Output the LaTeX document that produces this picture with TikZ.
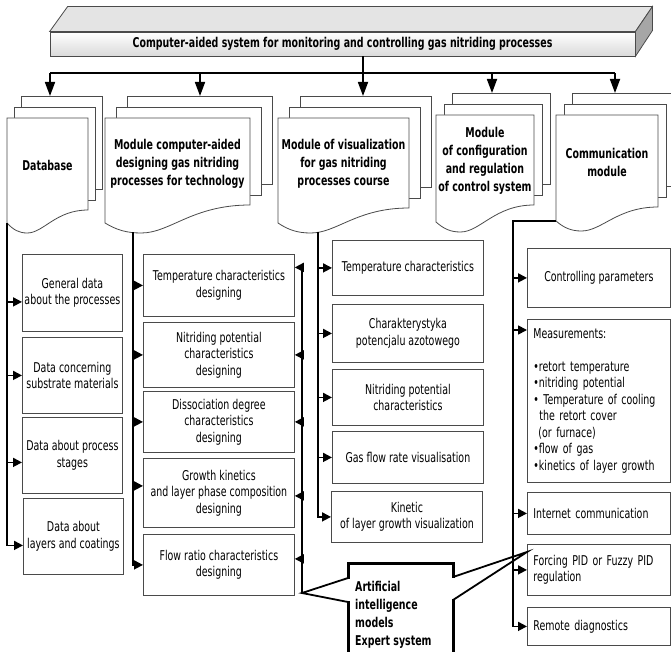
\documentclass[tikz,border=0pt]{standalone}
\usepackage{fontspec}
\setmainfont{DejaVu Sans}[FakeStretch=0.7]
\usetikzlibrary{arrows.meta, calc}
\definecolor{lidgray}{HTML}{E4E4E4}
\definecolor{sidegray}{HTML}{A6A6A6}
\definecolor{facegray}{HTML}{DADADA}
\definecolor{framegray}{HTML}{4A4A4A}

% stack of three pages, the front one with a wavy bottom
\newcommand{\pagestack}[9]{%
  \pgfmathsetmacro{\pgw}{#3-#2}
  \draw[page] ({#2+2*#7},{#4-22}) rectangle ({#3+2*#7},{#6-21});
  \draw[page] ({#2+#7},{#4-11}) rectangle ({#3+#7},{#6-10});
  \draw[page] (#2,#4) -- (#3,#4) -- (#3,#6)
    .. controls ({#2+0.6*\pgw},{#6}) and ({#2+0.45*\pgw},{#5+10}) .. ({#2+0.25*\pgw},{#5+10})
    .. controls ({#2+0.15*\pgw},{#5+10}) and ({#2+0.08*\pgw},{#5+7}) .. (#2,#5) -- cycle;
  \coordinate (#1-top) at ({#2+2*#7},{#4-22});
  \coordinate (#1-bl) at (#2,#5);
  \node[modtitle] (#1) at ({(#2+#3)/2},#9) {#8};
}

\begin{document}
\begin{tikzpicture}[x=1pt, y=-1pt,
    page/.style={draw=framegray, fill=white, line width=0.8pt},
    modtitle/.style={font=\bfseries\fontsize{13.5}{18}\selectfont, align=center, inner sep=0pt},
    sysbox/.style={draw=framegray, line width=0.8pt, top color=white, bottom color=facegray,
      minimum width=585pt, minimum height=24pt, font=\bfseries\fontsize{13.5}{16}\selectfont},
    sub/.style={draw=framegray, fill=white, line width=0.8pt, align=center, anchor=north west,
      font=\fontsize{13.5}{16.5}\selectfont, inner xsep=1pt},
    data/.style={sub, minimum width=100pt},
    design/.style={sub, minimum width=151pt},
    vis/.style={sub, minimum width=151pt},
    comm/.style={sub, minimum width=143pt},
    comml/.style={sub, align=left, text width=131pt, inner xsep=6pt},
    aitext/.style={anchor=west, align=left, inner sep=0pt, font=\bfseries\fontsize{13.5}{18}\selectfont},
    conn/.style={line width=1.7pt},
    arr/.style={conn, -{Triangle[length=9pt, width=9pt]}},
    drop/.style={conn, -{Triangle[length=14pt, width=10pt]}},
    callout/.style={line width=3pt},
    pointer/.style={line width=1.8pt},
  ]
  \useasboundingbox (0,0) rectangle (671,652);

  % main system box
  \node[sysbox] (sys) at (342.5,44) {Computer-aided system for monitoring and controlling gas nitriding processes};
  \draw[page, fill=lidgray] (sys.north west) -- ++(18,-25) -- ($(sys.north east)+(17,-25)$) -- (sys.north east) -- cycle;
  \draw[page, fill=sidegray] (sys.north east) -- ++(17,-25) -- ++(0,24) -- (sys.south east) -- cycle;

  % modules
  \pagestack{mDb}{7}{88}{118}{223}{210}{7}{Database}{165}
  \pagestack{mDes}{105}{250}{118}{223}{205}{11}{Module computer-aided\\designing gas nitriding\\processes for technology}{164}
  \pagestack{mVis}{278}{409}{118}{223}{208}{11}{Module of visualization\\for gas nitriding\\processes course}{164}
  \pagestack{mCfg}{436}{534}{115}{222}{205}{8}{Module\\of configuration\\and regulation\\of control system}{160.5}
  \pagestack{mCom}{556}{658}{115}{221}{207}{8}{Communication\\module}{162}

  % distribution from the system box
  \coordinate (hub) at (363,73);
  \foreach \m/\x in {mDb/50, mDes/200, mVis/363, mCfg/492, mCom/615}
    \coordinate (t\m) at (\x,73);
  \draw[conn] (sys.south -| hub) -- (hub);
  \draw[conn] (tmDb) -- (tmCom);
  \foreach \m in {mDb, mDes, mVis, mCfg, mCom}
    \draw[drop] (t\m) -- (t\m |- \m-top);

  % database
  \node[data, minimum height=77pt] (d1) at (22,254) {General data\\about the processes};
  \node[data, minimum height=76pt] (d2) at (22,337) {Data concerning\\substrate materials};
  \node[data, minimum height=76pt] (d3) at (22,417) {Data about process\\stages};
  \node[data, minimum height=76pt] (d4) at (23,498) {Data about\\layers and coatings};

  % designing
  \node[design, minimum height=62pt] (b1) at (143,254) {Temperature characteristics\\designing};
  \node[design, minimum height=65pt] (b2) at (143,322) {Nitriding potential\\characteristics\\designing};
  \node[design, minimum height=61pt] (b3) at (143,391) {Dissociation degree\\characteristics\\designing};
  \node[design, minimum height=69pt] (b4) at (143,458) {Growth kinetics\\and layer phase composition\\designing};
  \node[design, minimum height=61pt] (b5) at (143,534) {Flow ratio characteristics\\designing};

  % visualization
  \node[vis, minimum height=55pt] (v1) at (332,240) {Temperature characteristics};
  \node[vis, minimum height=58pt] (v2) at (332,304) {Charakterystyka\\potencjalu azotowego};
  \node[vis, minimum height=56pt] (v3) at (332,369) {Nitriding potential\\characteristics};
  \node[vis, minimum height=52pt] (v4) at (332,431) {Gas flow rate visualisation};
  \node[vis, minimum height=51pt] (v5) at (331,491) {Kinetic\\of layer growth visualization};

  % communication
  \node[comm, minimum height=59pt] (c1) at (527,248) {Controlling parameters};
  \node[comml, minimum height=163pt] (c2) at (527,319) {Measurements:\\[16.5pt]
    •retort temperature\\•nitriding potential\\• Temperature of cooling\\
    \hspace*{6pt}the retort cover\\\hspace*{5pt}(or furnace)\\•flow of gas\\•kinetics of layer growth};
  \node[comml, minimum height=42pt] (c3) at (527,492) {Internet communication};
  \node[comml, minimum height=51pt] (c4) at (527,544) {Forcing PID or Fuzzy PID\\regulation};
  \node[comml, minimum height=38pt] (c5) at (527,607) {Remote diagnostics};

  % database links
  \foreach \i/\s in {1/9, 2/0, 3/7, 4/9}
    \coordinate (a\i) at ([yshift=-\s pt]d\i.west);
  \draw[arr] (mDb-bl) |- (a4);
  \foreach \i in {1,2,3}
    \draw[arr] (a\i -| mDb-bl) -- (a\i);

  % designing links
  \coordinate (desOut) at (133,232);
  \coordinate (e4) at ([yshift=7pt]b4.west);
  \draw[arr] (desOut) |- (b5.west);
  \foreach \i in {1,2,3}
    \draw[arr] (b\i.west -| desOut) -- (b\i.west);
  \draw[arr] (e4 -| desOut) -- (e4);

  % visualization links
  \coordinate (visOut) at (318,232);
  \draw[arr] (visOut) |- (v5.west);
  \foreach \i in {1,...,4}
    \draw[arr] (v\i.west -| visOut) -- (v\i.west);

  % communication links
  \coordinate (comBus) at (513,221);
  \coordinate (k2) at ([yshift=-11pt]c2.north west);
  \draw[arr] (mCom-bl) -- (comBus) |- (c5.west);
  \foreach \i in {1,3,4}
    \draw[arr] (c\i.west -| comBus) -- (c\i.west);
  \draw[arr] (k2 -| comBus) -- (k2);

  % expert system callout
  \coordinate (tipL) at (302,593);
  \coordinate (tipR) at ([yshift=-8pt]c4.north west);
  \fill[white] (348,563) rectangle (453,670);
  \draw[callout] (348,579) -- (348,563) -- (453,563) -- (453,578);
  \draw[callout] (453,599) -- (453,670) -- (348,670) -- (348,601);
  \draw[pointer] (348,578) -- (tipL) -- (348,602);
  \draw[pointer] (453,577) -- (tipR) -- (453,600);
  \node[aitext] (ai) at (355,615) {Artificial\\intelligence\\models\\Expert system};

  % feedback into designing
  \foreach \i/\s in {1/18, 2/0, 3/0, 4/-3, 5/6}
    \coordinate (r\i) at ([yshift=\s pt]b\i.east);
  \draw[arr] (tipL) |- (r1);
  \foreach \i in {2,...,5}
    \draw[arr] (r\i -| tipL) -- (r\i);
\end{tikzpicture}
\end{document}
